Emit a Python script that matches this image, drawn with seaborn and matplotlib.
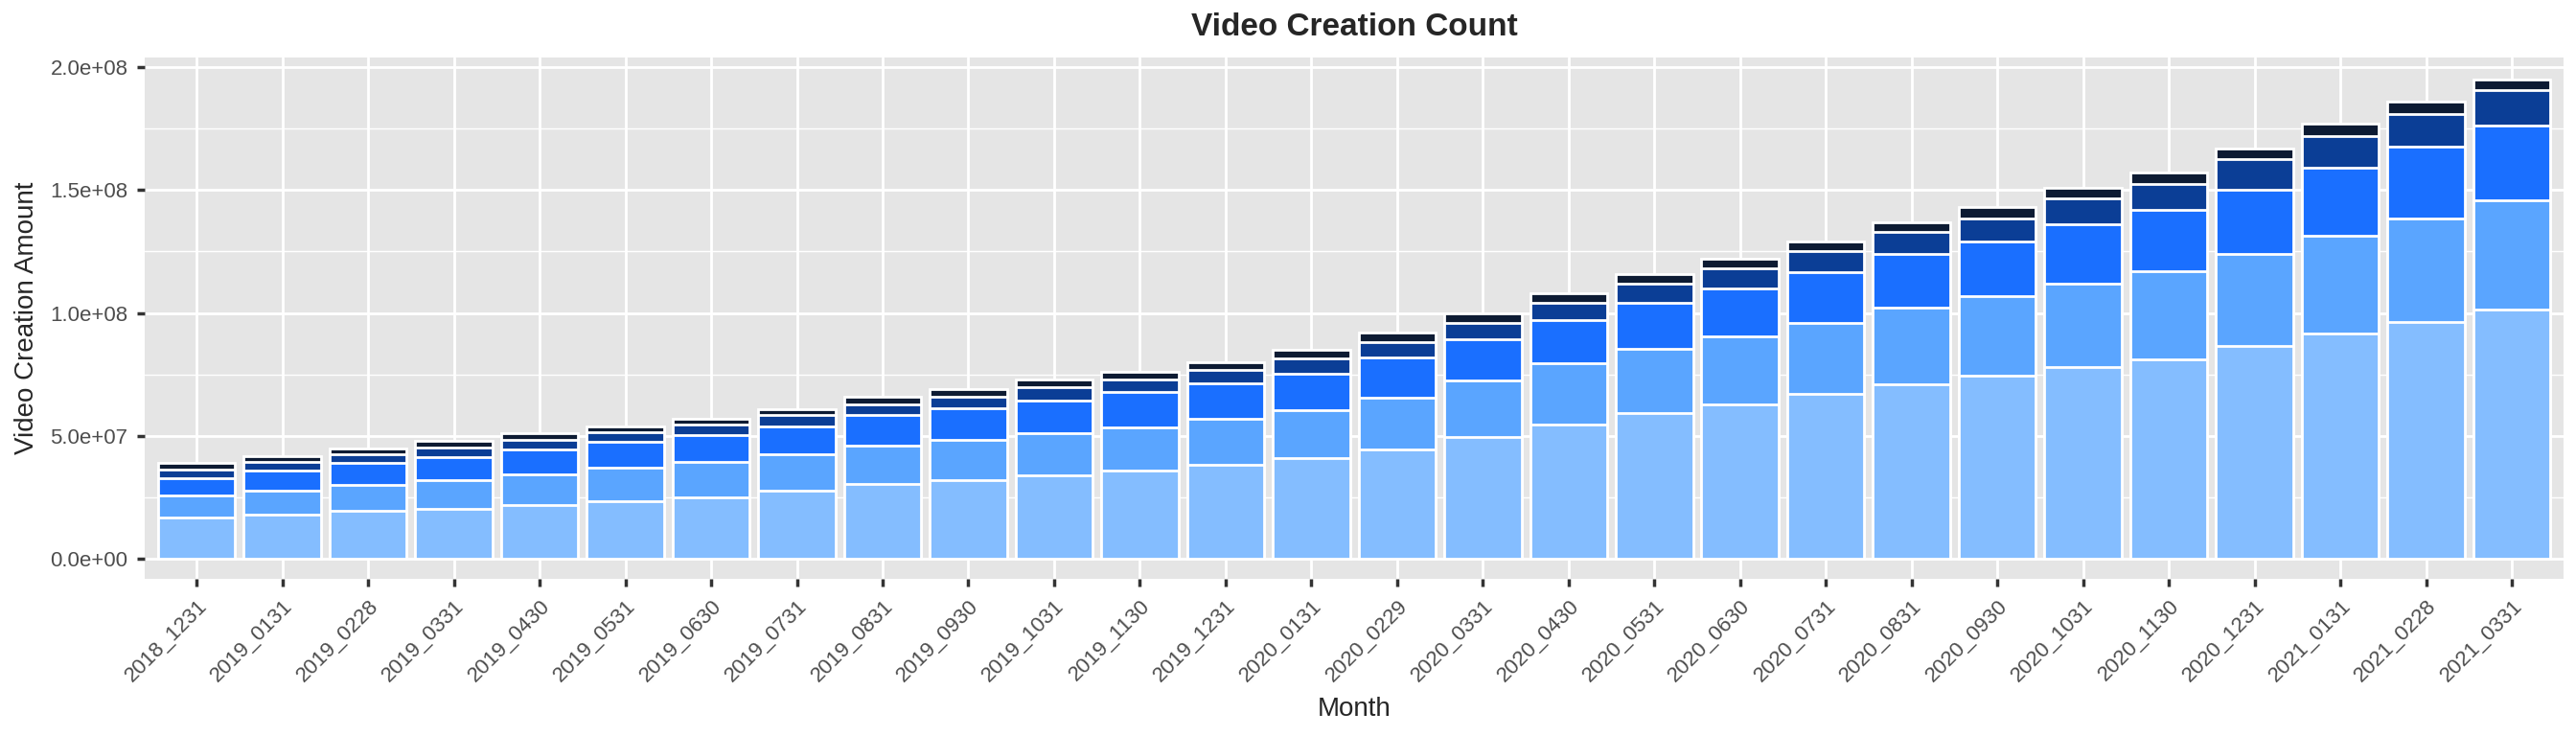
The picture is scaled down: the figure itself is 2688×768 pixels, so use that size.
import numpy as np
import pandas as pd
import matplotlib.pyplot as plt
import seaborn as sns

# --- DATA (stack tops, in units of 1e7) ---
months = ['2018_1231', '2019_0131', '2019_0228', '2019_0331', '2019_0430', '2019_0531',
          '2019_0630', '2019_0731', '2019_0831', '2019_0930', '2019_1031', '2019_1130',
          '2019_1231', '2020_0131', '2020_0229', '2020_0331', '2020_0430', '2020_0531',
          '2020_0630', '2020_0731', '2020_0831', '2020_0930', '2020_1031', '2020_1130',
          '2020_1231', '2021_0131', '2021_0228', '2021_0331']
level1 = [1.7, 1.8, 1.95, 2.05, 2.2, 2.35, 2.5, 2.8, 3.05, 3.2, 3.4, 3.6, 3.85, 4.1,
          4.45, 4.95, 5.45, 5.95, 6.3, 6.7, 7.1, 7.45, 7.8, 8.1, 8.65, 9.15, 9.65, 10.15]
level2 = [2.6, 2.8, 3.0, 3.2, 3.45, 3.7, 3.95, 4.25, 4.6, 4.85, 5.1, 5.35, 5.7, 6.05,
          6.55, 7.25, 7.95, 8.55, 9.05, 9.6, 10.2, 10.7, 11.2, 11.7, 12.4, 13.15, 13.85, 14.6]
level3 = [3.3, 3.6, 3.9, 4.15, 4.45, 4.75, 5.05, 5.4, 5.85, 6.15, 6.45, 6.8, 7.15, 7.55,
          8.2, 8.95, 9.7, 10.4, 11.0, 11.65, 12.4, 12.9, 13.6, 14.2, 15.0, 15.9, 16.75, 17.6]
level4 = [3.65, 3.95, 4.25, 4.55, 4.85, 5.15, 5.45, 5.85, 6.3, 6.6, 7.0, 7.3, 7.7, 8.15,
          8.8, 9.6, 10.4, 11.2, 11.8, 12.5, 13.3, 13.85, 14.65, 15.25, 16.25, 17.2, 18.1, 19.05]
total = [3.9, 4.2, 4.5, 4.8, 5.1, 5.4, 5.7, 6.1, 6.6, 6.9, 7.3, 7.6, 8.0, 8.5,
         9.2, 10.0, 10.8, 11.6, 12.2, 12.9, 13.7, 14.3, 15.1, 15.7, 16.7, 17.7, 18.6, 19.5]
colors = ['#0D1B33', '#0B3E96', '#1A6FFF', '#5AA5FF', '#84BDFF']

sns.set_theme(style="darkgrid", rc={'axes.facecolor': '#E5E5E5', 'grid.color': 'white'})
plt.rcParams['font.family'] = ['Liberation Sans', 'DejaVu Sans']

fig, ax = plt.subplots(figsize=(13.44, 3.84))
layers = [total, level4, level3, level2, level1]
for vals, col in zip(layers, colors):
    df = pd.DataFrame({'Month': months, 'Value': np.array(vals) * 1e7})
    sns.barplot(data=df, x='Month', y='Value', order=months, color=col,
                width=0.9, saturation=1, ax=ax, zorder=2)

ax.set_ylim(-0.08e8, 2.04e8)
ax.set_xlim(-0.6, len(months) - 0.4)
ax.set_yticks([0, 0.5e8, 1.0e8, 1.5e8, 2.0e8])
ax.set_yticklabels(['0.0e+00', '5.0e+07', '1.0e+08', '1.5e+08', '2.0e+08'])
ax.set_yticks([0.25e8, 0.75e8, 1.25e8, 1.75e8], minor=True)
ax.grid(which='minor', axis='y', color='white', linewidth=0.5)
ax.grid(which='major', color='white', linewidth=1.0)
ax.set_axisbelow(True)
ax.tick_params(axis='both', labelsize=8, colors='#4D4D4D', length=3, direction='out')
ax.tick_params(axis='both', which='major', bottom=True, left=True, color='#333333')
plt.setp(ax.get_xticklabels(), rotation=45, ha='right', rotation_mode='anchor')
ax.set_xlabel('Month', fontsize=10)
ax.set_ylabel('Video Creation Amount', fontsize=10)
ax.set_title('Video Creation Count', fontsize=12, fontweight='bold', pad=8)
for s in ax.spines.values():
    s.set_visible(False)

plt.tight_layout(pad=0.4)
plt.savefig('out.png', dpi=200)
